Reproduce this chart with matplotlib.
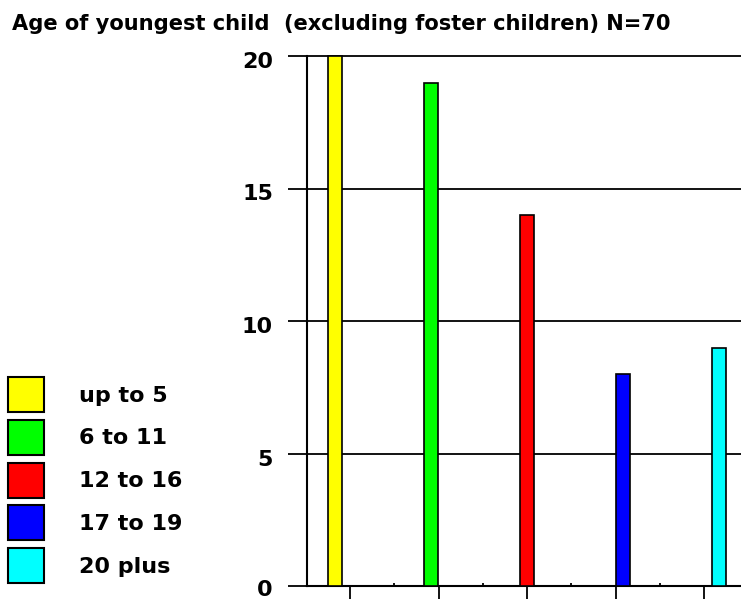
import numpy as np
import matplotlib
matplotlib.use("Agg")
import matplotlib.pyplot as plt
from matplotlib.patches import Patch
from matplotlib.transforms import ScaledTranslation

# data
categories = ["up to 5", "6 to 11", "12 to 16", "17 to 19", "20 plus"]
counts = [20, 19, 14, 8, 9]
colors = ["#ffff00", "#00ff00", "#ff0000", "#0000ff", "#00ffff"]
yticks = [0, 5, 10, 15, 20]
title = "Age of youngest child  (excluding foster children) N=70"

W, H = 741, 599
fig = plt.figure(figsize=(W / 100, H / 100), dpi=100)
ax = fig.add_axes([306.7 / W, 13 / H, (W - 306.7) / W, 530 / H])

x = np.arange(1, len(counts) + 1)
bars = ax.bar(x, counts, width=0.146, color=colors, edgecolor="black",
              linewidth=1.2, zorder=3)
for b in bars:
  b.set_clip_on(False)

ax.set_xlim(0.70, 5.233)
ax.set_ylim(0, 20)

ax.set_yticks(yticks)
ax.yaxis.grid(True, color="black", linewidth=1.3)
for gl in ax.get_ygridlines():
  gl.set_clip_on(False)
ax.set_axisbelow(True)
ax.tick_params(axis="y", direction="out", length=13.5, width=1.3, pad=10.8,
               labelsize=16)
for v, lab in zip(yticks, ax.get_yticklabels()):
  lab.set_fontweight("bold")
  dy = -1.5 if v == 0 else -4
  lab.set_transform(lab.get_transform() + ScaledTranslation(0, dy / 100, fig.dpi_scale_trans))

# tick marks under the baseline (no labels)
ax.set_xticks(np.linspace(1.153, 4.849, 5))
ax.set_xticks(np.linspace(1.61, 4.39, 4), minor=True)
ax.tick_params(axis="x", which="major", direction="out", length=10, width=1.3,
               labelbottom=False)
ax.tick_params(axis="x", which="minor", direction="in", length=2.5, width=1.3)

for s in ["top", "right"]:
  ax.spines[s].set_visible(False)
ax.spines["left"].set_linewidth(1.5)
ax.spines["bottom"].set_linewidth(1.5)

fig.text(11.7 / W, 1 - 24 / H, title, ha="left", va="center",
         fontsize=15.1, fontweight="bold")

handles = [Patch(facecolor=c, edgecolor="black", linewidth=1.5) for c in colors]
leg = fig.legend(handles, categories, loc="upper left",
                 bbox_to_anchor=(8 / W, 1 - 377 / H), frameon=False,
                 borderpad=0, borderaxespad=0, handlelength=1.62,
                 handleheight=2.06, labelspacing=0.34, handletextpad=1.58,
                 prop={"size": 16, "weight": "bold"})

fig.savefig("out.png", dpi=100)
